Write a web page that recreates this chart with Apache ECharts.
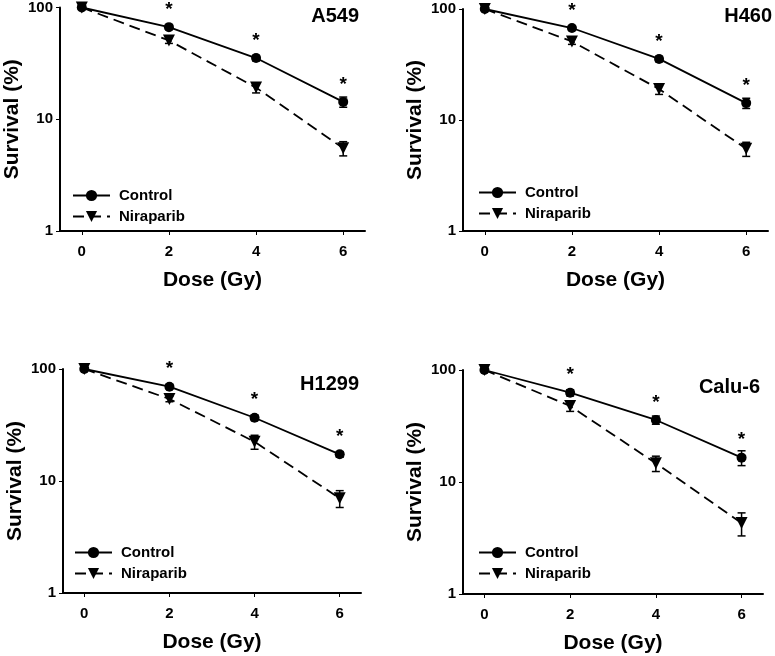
<!DOCTYPE html>
<html>
<head>
<meta charset="utf-8">
<script src="https://cdn.jsdelivr.net/npm/echarts@6/dist/echarts.min.js"></script>
<style>
html,body{margin:0;padding:0;background:#fff;}
#chart{width:775px;height:656px;}
</style>
</head>
<body>
<div id="chart"></div>
<script>
// ---- data ----
const doses = [0, 2, 4, 6];
const xTickValues = [0, 2, 4, 6];
const cellLines = ['A549', 'H460', 'H1299', 'Calu-6'];
const seriesNames = ['Control', 'Niraparib'];

const a549Control = [100, 66.7, 35.3, 14.3];
const a549ControlErr = [0, 3, 2, 1.5];
const a549Nira = [100, 50.7, 19.2, 5.5];
const a549NiraErr = [0, 3, 2, 0.8];

const h460Control = [100, 67.4, 35.5, 14.2];
const h460ControlErr = [0, 3, 2, 1.5];
const h460Nira = [100, 51, 19, 5.5];
const h460NiraErr = [0, 3, 2, 0.8];

const h1299Control = [100, 69.5, 36.7, 17.3];
const h1299ControlErr = [0, 3, 2, 1];
const h1299Nira = [100, 54, 22.4, 7.0];
const h1299NiraErr = [0, 3, 3.2, 1.2];

const calu6Control = [100, 62.7, 35.8, 16.5];
const calu6ControlErr = [0, 4, 3, 2.5];
const calu6Nira = [100, 47.7, 14.7, 4.3];
const calu6NiraErr = [0, 5, 2.3, 1.0];

const significant = [false, true, true, true];

const panelData = [
  {c: a549Control, ce: a549ControlErr, n: a549Nira, ne: a549NiraErr},
  {c: h460Control, ce: h460ControlErr, n: h460Nira, ne: h460NiraErr},
  {c: h1299Control, ce: h1299ControlErr, n: h1299Nira, ne: h1299NiraErr},
  {c: calu6Control, ce: calu6ControlErr, n: calu6Nira, ne: calu6NiraErr}
];

// ---- layout ----
const FONT = '"Liberation Sans", Arial, Helvetica, sans-serif';
const grids = [
  {left: 60, top: 7, width: 305, height: 224},
  {left: 463, top: 9, width: 305, height: 222},
  {left: 63, top: 369, width: 298, height: 224},
  {left: 463, top: 370, width: 300, height: 224}
];
const titlePos = [
  {right: 416, top: 6},
  {right: 3, top: 6},
  {right: 416, top: 374},
  {right: 15, top: 377}
];
const legendPos = [
  {left: 72, top: 188},
  {left: 478, top: 185},
  {left: 74, top: 545},
  {left: 478, top: 545}
];

const option = {
  backgroundColor: '#fff',
  animation: false,
  title: [], grid: [], xAxis: [], yAxis: [], legend: [], series: []
};

function errorBarSeries(idx, vals, errs) {
  return {
    type: 'custom',
    xAxisIndex: idx, yAxisIndex: idx,
    z: 3,
    silent: true,
    data: doses.map((d, i) => [d, vals[i] - errs[i], vals[i] + errs[i], errs[i]]),
    encode: {x: 0, y: [1, 2]},
    renderItem: function (params, api) {
      if (api.value(3) === 0) return null;
      const x = api.value(0);
      const top = api.coord([x, api.value(2)]);
      const bot = api.coord([x, api.value(1)]);
      const hw = 4;
      const st = {stroke: '#000', lineWidth: 1.5};
      return {
        type: 'group',
        children: [
          {type: 'line', shape: {x1: top[0], y1: top[1], x2: bot[0], y2: bot[1]}, style: st},
          {type: 'line', shape: {x1: top[0] - hw, y1: top[1], x2: top[0] + hw, y2: top[1]}, style: st},
          {type: 'line', shape: {x1: bot[0] - hw, y1: bot[1], x2: bot[0] + hw, y2: bot[1]}, style: st}
        ]
      };
    }
  };
}

cellLines.forEach((name, i) => {
  const p = panelData[i];
  option.title.push({
    text: name, right: titlePos[i].right, top: titlePos[i].top, padding: 0,
    textStyle: {fontFamily: FONT, fontWeight: 'bold', fontSize: 20, color: '#000'}
  });
  option.grid.push(Object.assign({containLabel: false}, grids[i]));
  option.xAxis.push({
    type: 'value', gridIndex: i, min: -0.5, max: 6.5,
    name: 'Dose (Gy)', nameLocation: 'middle', nameGap: 39,
    nameTextStyle: {fontFamily: FONT, fontWeight: 'bold', fontSize: 21, color: '#000'},
    axisLine: {show: true, onZero: false, lineStyle: {color: '#000', width: 2}},
    axisTick: {show: true, inside: false, length: 4, customValues: xTickValues, lineStyle: {color: '#000', width: 1}},
    axisLabel: {show: true, margin: 13, customValues: xTickValues, fontFamily: FONT, fontWeight: 'bold', fontSize: 15, color: '#000'},
    splitLine: {show: false}
  });
  option.yAxis.push({
    type: 'log', logBase: 10, gridIndex: i, min: 1, max: 100,
    name: 'Survival (%)', nameLocation: 'middle', nameGap: 37, nameRotate: 90,
    nameTextStyle: {fontFamily: FONT, fontWeight: 'bold', fontSize: 21, color: '#000'},
    axisLine: {show: true, onZero: false, lineStyle: {color: '#000', width: 2}},
    axisTick: {show: true, inside: false, length: 4, lineStyle: {color: '#000', width: 1}},
    axisLabel: {show: true, margin: 7, fontFamily: FONT, fontWeight: 'bold', fontSize: 15, color: '#000'},
    splitLine: {show: false}, minorTick: {show: false}
  });
  option.legend.push({
    orient: 'vertical', left: legendPos[i].left, top: legendPos[i].top,
    data: seriesNames, itemWidth: 37, itemHeight: 14, itemGap: 6, padding: 0,
    selectedMode: false,
    textStyle: {fontFamily: FONT, fontWeight: 'bold', fontSize: 15, color: '#000', padding: [0, 0, 0, 4]}
  });
  option.series.push({
    name: 'Niraparib', type: 'line', xAxisIndex: i, yAxisIndex: i, z: 4,
    data: doses.map((d, k) => [d, p.n[k]]),
    symbol: 'triangle', symbolRotate: 180, symbolSize: 12, showSymbol: true,
    itemStyle: {color: '#000', borderWidth: 0},
    lineStyle: {color: '#000', width: 1.8, type: [11, 6]}
  });
  option.series.push(errorBarSeries(i, p.n, p.ne));
  option.series.push(errorBarSeries(i, p.c, p.ce));
  option.series.push({
    name: 'Control', type: 'line', xAxisIndex: i, yAxisIndex: i, z: 5,
    data: doses.map((d, k) => [d, p.c[k]]),
    symbol: 'circle', symbolSize: 10, showSymbol: true,
    itemStyle: {color: '#000', borderWidth: 0},
    lineStyle: {color: '#000', width: 1.8, type: 'solid'},
    label: {
      show: true, position: 'top', distance: 3,
      formatter: function (prm) { return significant[prm.dataIndex] ? '*' : ''; },
      fontFamily: FONT, fontWeight: 'bold', fontSize: 19, color: '#000'
    }
  });
});

const chart = echarts.init(document.getElementById('chart'));
chart.setOption(option);
</script>
</body>
</html>
